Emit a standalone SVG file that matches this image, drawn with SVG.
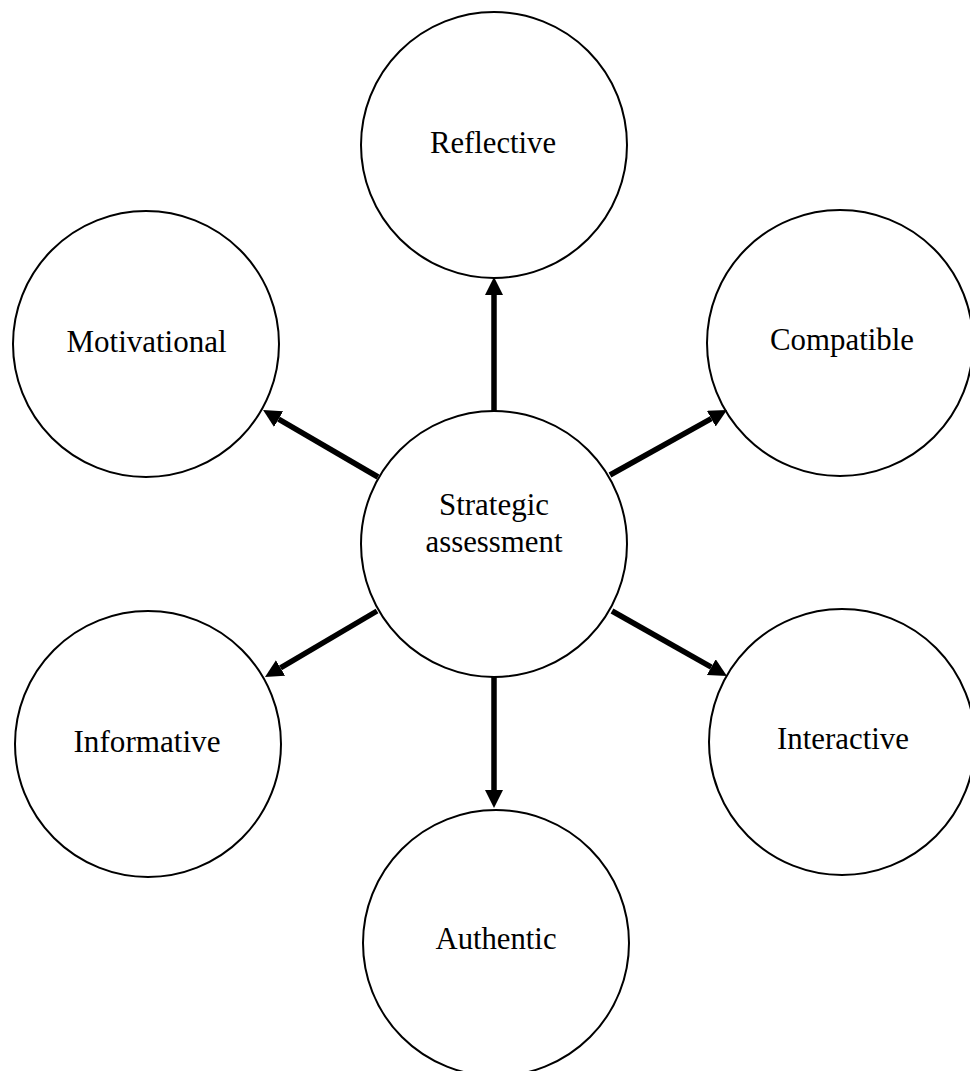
<svg xmlns="http://www.w3.org/2000/svg" width="970" height="1071" viewBox="0 0 970 1071">
<style>
.node circle{fill:#fff;stroke:#000;stroke-width:2}
.node text{font-family:"Liberation Serif","Times New Roman",serif;font-size:31px;fill:#000;text-anchor:middle}
.conn line{stroke:#000;stroke-width:5.5}
</style>
<defs>
<marker id="ah" markerUnits="userSpaceOnUse" markerWidth="20" markerHeight="20" refX="0" refY="9" orient="auto">
<path d="M0,0 L18,9 L0,18 z" fill="#000"/>
</marker>
</defs>
<rect width="970" height="1071" fill="#fff"/>
<g id="n-reflective" class="node"><circle cx="494" cy="145" r="133"/><text x="493" y="153" textLength="126" lengthAdjust="spacingAndGlyphs">Reflective</text></g>
<g id="n-motivational" class="node"><circle cx="146" cy="344" r="133"/><text x="146.5" y="352" textLength="160" lengthAdjust="spacing">Motivational</text></g>
<g id="n-compatible" class="node"><circle cx="840" cy="343" r="133"/><text x="842" y="350" textLength="144" lengthAdjust="spacingAndGlyphs">Compatible</text></g>
<g id="n-strategic" class="node"><circle cx="494" cy="544" r="133"/><text x="494" y="515" textLength="110" lengthAdjust="spacingAndGlyphs">Strategic</text><text x="494" y="552" textLength="137" lengthAdjust="spacingAndGlyphs">assessment</text></g>
<g id="n-informative" class="node"><circle cx="148" cy="744" r="133"/><text x="147" y="752" textLength="147" lengthAdjust="spacingAndGlyphs">Informative</text></g>
<g id="n-interactive" class="node"><circle cx="842" cy="742" r="133"/><text x="843" y="749" textLength="132" lengthAdjust="spacingAndGlyphs">Interactive</text></g>
<g id="n-authentic" class="node"><circle cx="496" cy="943" r="133"/><text x="496" y="949" textLength="121" lengthAdjust="spacingAndGlyphs">Authentic</text></g>
<g id="connectors" class="conn">
<line x1="494" y1="411" x2="494" y2="295" marker-end="url(#ah)"/>
<line x1="378" y1="477" x2="278.6" y2="419.1" marker-end="url(#ah)"/>
<line x1="610" y1="475" x2="711.3" y2="418.7" marker-end="url(#ah)"/>
<line x1="377" y1="611" x2="280.5" y2="667.9" marker-end="url(#ah)"/>
<line x1="612" y1="611" x2="711.3" y2="667.1" marker-end="url(#ah)"/>
<line x1="494" y1="677" x2="494" y2="790" marker-end="url(#ah)"/>
</g>
</svg>
